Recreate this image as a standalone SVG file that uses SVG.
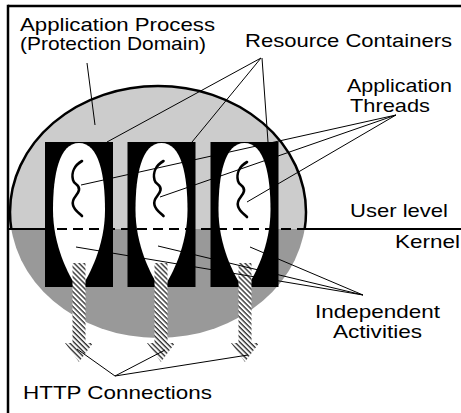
<svg xmlns="http://www.w3.org/2000/svg" width="461" height="413" viewBox="0 0 461 413">
<style>
  text { font-family: "Liberation Sans", Arial, Helvetica, sans-serif; font-size: 19px; fill: #000; }
  .lead { stroke: #000; stroke-width: 1; fill: none; }
  .squig { stroke: #000; stroke-width: 2.6; fill: none; stroke-linecap: round; stroke-linejoin: round; }
  .cont { fill: #000; }
  .hole { fill: #fff; }
  .http { fill: url(#hatch); }
</style>
<defs>
  <clipPath id="upper"><rect x="0" y="0" width="461" height="229"/></clipPath>
  <clipPath id="lower"><rect x="0" y="229" width="461" height="184"/></clipPath>
  <pattern id="hatch" patternUnits="userSpaceOnUse" width="3.5" height="3.5" patternTransform="rotate(45)">
    <rect width="3.5" height="3.5" fill="#fff"/>
    <rect width="3.5" height="1.4" fill="#333"/>
  </pattern>
  <path id="holeShape" d="M79,143 C99,143 105,175 105,210 C105,245 90,275 79,291 C68,275 53,245 53,210 C53,175 59,143 79,143 Z"/>
  <path id="squiggle" d="M82,161 C75,165 71,172 73,180 C74,185 80,184 79,190 C78,196 71,198 73,205 C74,210 79,213 82,216"/>
  <path id="arrow" d="M72.5,263 V343 H65 L79,362 L93,343 H85.5 V263 Z"/>
</defs>
<rect width="461" height="413" fill="#fff"/>

<g id="process">
  <ellipse cx="158" cy="212" rx="148" ry="126" fill="#999999" clip-path="url(#lower)"/>
  <ellipse cx="158" cy="212" rx="148" ry="126" fill="#cccccc" stroke="#000" stroke-width="2.5" clip-path="url(#upper)"/>
</g>

<g id="container1">
  <rect class="cont" x="45" y="142" width="68" height="145"/>
  <use href="#holeShape" class="hole"/>
  <use href="#squiggle" class="squig"/>
</g>
<g id="container2">
  <rect class="cont" x="127.5" y="142" width="68" height="145"/>
  <use href="#holeShape" class="hole" transform="translate(82.5,0)"/>
  <use href="#squiggle" class="squig" transform="translate(81.5,0)"/>
</g>
<g id="container3">
  <rect class="cont" x="210.5" y="142" width="68" height="145"/>
  <use href="#holeShape" class="hole" transform="translate(165.5,0)"/>
  <use href="#squiggle" class="squig" transform="translate(165,1)"/>
</g>

<g id="http1"><use href="#arrow" class="http"/></g>
<g id="http2"><use href="#arrow" class="http" transform="translate(82,0)"/></g>
<g id="http3"><use href="#arrow" class="http" transform="translate(166,0)"/></g>

<g id="boundary">
  <line x1="8" y1="229" x2="48" y2="229" stroke="#000" stroke-width="2"/>
  <line x1="57" y1="229" x2="300" y2="229" stroke="#000" stroke-width="2" stroke-dasharray="10 6"/>
  <line x1="300" y1="229" x2="461" y2="229" stroke="#000" stroke-width="2"/>
</g>

<g id="connectors">
  <line class="lead" x1="87" y1="63" x2="95" y2="125"/>
  <line class="lead" x1="261" y1="58" x2="107" y2="142"/>
  <line class="lead" x1="261" y1="58" x2="192" y2="142"/>
  <line class="lead" x1="262" y1="58" x2="268" y2="142"/>
  <line class="lead" x1="396" y1="115" x2="81" y2="185"/>
  <line class="lead" x1="396" y1="115" x2="160" y2="197"/>
  <line class="lead" x1="396" y1="115" x2="247" y2="202"/>
  <line class="lead" x1="363" y1="295" x2="76" y2="247"/>
  <line class="lead" x1="363" y1="295" x2="158" y2="246"/>
  <line class="lead" x1="363" y1="295" x2="250" y2="247"/>
  <line class="lead" x1="115" y1="376" x2="77" y2="349"/>
  <line class="lead" x1="115" y1="376" x2="165" y2="350"/>
  <line class="lead" x1="115" y1="376" x2="248" y2="355"/>
</g>

<g id="frame">
  <line x1="8" y1="6" x2="461" y2="6" stroke="#000" stroke-width="2.5"/>
  <line x1="8" y1="4.75" x2="8" y2="413" stroke="#000" stroke-width="2.5"/>
</g>

<g id="labels">
  <text x="20" y="31" textLength="195" lengthAdjust="spacingAndGlyphs">Application Process</text>
  <text x="20" y="50" textLength="186" lengthAdjust="spacingAndGlyphs">(Protection Domain)</text>
  <text x="245" y="47" textLength="207" lengthAdjust="spacingAndGlyphs">Resource Containers</text>
  <text x="347" y="92" textLength="105" lengthAdjust="spacingAndGlyphs">Application</text>
  <text x="350" y="112" textLength="80" lengthAdjust="spacingAndGlyphs">Threads</text>
  <text x="350" y="217" textLength="98" lengthAdjust="spacingAndGlyphs">User level</text>
  <text x="395" y="248" textLength="65" lengthAdjust="spacingAndGlyphs">Kernel</text>
  <text x="315" y="318" textLength="125" lengthAdjust="spacingAndGlyphs">Independent</text>
  <text x="333" y="338" textLength="89" lengthAdjust="spacingAndGlyphs">Activities</text>
  <text x="23" y="399" textLength="189" lengthAdjust="spacingAndGlyphs">HTTP Connections</text>
</g>
</svg>
